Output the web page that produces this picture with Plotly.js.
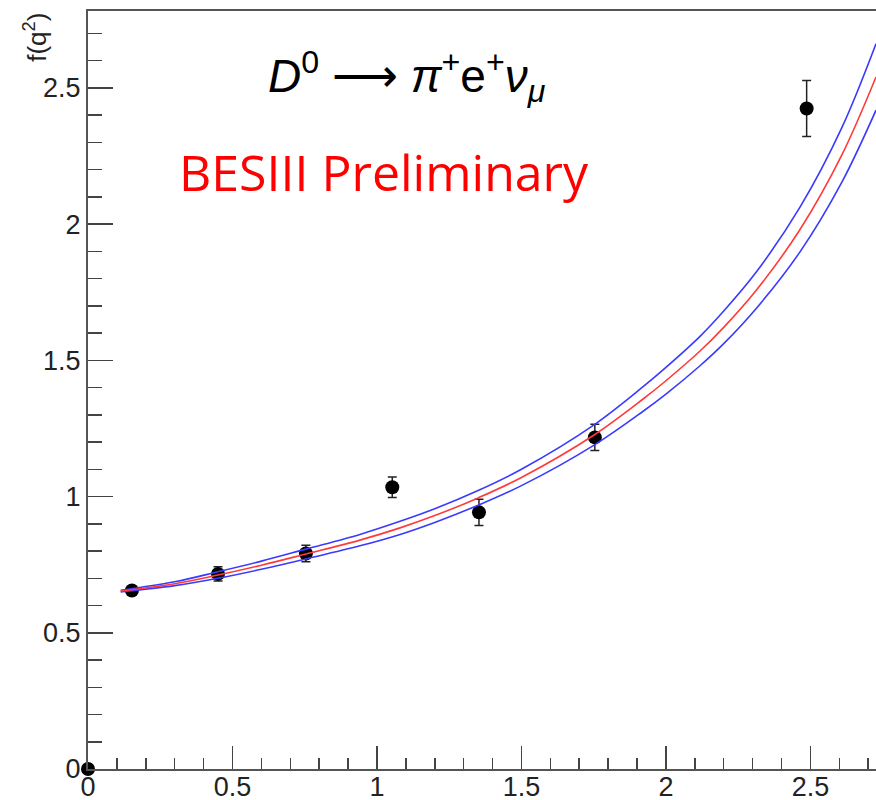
<!DOCTYPE html>
<html>
<head>
<meta charset="utf-8">
<script src="https://cdn.plot.ly/plotly-3.0.1.min.js"></script>
<style>html,body{margin:0;padding:0;background:#fff;}#plot{width:876px;height:800px;}</style>
</head>
<body>
<div id="plot"></div>
<script>
// Measured points f(q^2) with errors
const ptX = [0, 0.152, 0.45, 0.754, 1.053, 1.353, 1.754, 2.487];
const ptY = [0, 0.655, 0.716, 0.791, 1.034, 0.942, 1.217, 2.424];
const ptErr = [0, 0.01, 0.026, 0.03, 0.038, 0.048, 0.048, 0.103];

// Fit curve (red) and its band (blue)
const fitX = [0.113, 0.30, 0.45, 0.60, 0.754, 0.941, 1.08, 1.20, 1.35, 1.50, 1.75, 1.921, 2.0, 2.118, 2.2, 2.314, 2.464, 2.608, 2.727];
const fitY = [0.653, 0.68, 0.712, 0.748, 0.789, 0.84, 0.885, 0.93, 0.995, 1.07, 1.225, 1.358, 1.425, 1.534, 1.621, 1.759, 1.98, 2.252, 2.54];
const upperY = [0.656, 0.687, 0.724, 0.763, 0.807, 0.861, 0.909, 0.955, 1.022, 1.10, 1.262, 1.403, 1.474, 1.588, 1.681, 1.826, 2.062, 2.352, 2.662];
const lowerY = [0.650, 0.673, 0.700, 0.733, 0.771, 0.819, 0.861, 0.905, 0.968, 1.04, 1.188, 1.313, 1.376, 1.480, 1.561, 1.692, 1.898, 2.152, 2.418];

const xTickVals = [0, 0.5, 1, 1.5, 2, 2.5];
const xTickText = ['0', '0.5', '1', '1.5', '2', '2.5'];
const yTickVals = [0, 0.5, 1, 1.5, 2, 2.5];
const yTickText = ['0', '0.5', '1', '1.5', '2', '2.5'];

const titleText = '<i>D</i><sup>0</sup> ⟶ <i>π</i><sup>+</sup>e<sup>+</sup><i>ν</i><sub><i>μ</i></sub>';
const labelText = 'BESIII Preliminary';
const yTitle = 'f(q<sup>2</sup>)';

const traces = [
  {x: ptX, y: ptY, type: 'scatter', mode: 'markers', cliponaxis: false,
   marker: {color: '#000', size: 14},
   error_y: {type: 'data', array: ptErr, visible: true, color: '#222', thickness: 1.5, width: 4.5}},
  {x: fitX, y: upperY, type: 'scatter', mode: 'lines', line: {color: '#3a3aff', width: 1.6, shape: 'spline', smoothing: 1}},
  {x: fitX, y: lowerY, type: 'scatter', mode: 'lines', line: {color: '#3a3aff', width: 1.6, shape: 'spline', smoothing: 1}},
  {x: fitX, y: fitY, type: 'scatter', mode: 'lines', line: {color: '#ff3a3a', width: 1.6, shape: 'spline', smoothing: 1}}
];

const layout = {
  width: 876, height: 800,
  margin: {l: 88, r: 0, t: 11, b: 31},
  paper_bgcolor: '#fff', plot_bgcolor: '#fff',
  showlegend: false,
  font: {family: 'Liberation Sans, Arial, sans-serif', color: '#222'},
  xaxis: {
    range: [0, 2.727], showgrid: false, zeroline: false,
    showline: true, linecolor: '#555', linewidth: 2, mirror: true,
    tickvals: xTickVals, ticktext: xTickText,
    ticks: 'inside', ticklen: 23, tickwidth: 1.5, tickcolor: '#444',
    tickfont: {size: 27, color: '#222'}, ticklabelstandoff: -7,
    minor: {dtick: 0.1, tick0: 0, ticks: 'inside', ticklen: 11, tickwidth: 1.5, tickcolor: '#444'}
  },
  yaxis: {
    range: [0, 2.782], showgrid: false, zeroline: false,
    showline: true, linecolor: '#555', linewidth: 2,
    tickvals: yTickVals, ticktext: yTickText,
    ticks: 'inside', ticklen: 25, tickwidth: 1.5, tickcolor: '#444',
    tickfont: {size: 27, color: '#222'},
    minor: {dtick: 0.1, tick0: 0, ticks: 'inside', ticklen: 14, tickwidth: 1.5, tickcolor: '#444'}
  },
  annotations: [
    {text: titleText, xref: 'x', yref: 'y', x: 1.104, y: 2.54, showarrow: false,
     xanchor: 'center', yanchor: 'middle',
     font: {family: 'Liberation Sans, Arial, sans-serif', size: 46, color: '#000'}},
    {text: labelText, xref: 'x', yref: 'y', x: 1.024, y: 2.19, showarrow: false,
     xanchor: 'center', yanchor: 'middle',
     font: {family: 'Open Sans, sans-serif', size: 50, color: '#ff0000'}},
    {text: yTitle, xref: 'paper', yref: 'paper', x: -0.066, y: 0.966, showarrow: false,
     xanchor: 'center', yanchor: 'middle',
     textangle: -90, font: {family: 'Liberation Sans, Arial, sans-serif', size: 26, color: '#222'}}
  ]
};

Plotly.newPlot('plot', traces, layout, {displayModeBar: false, staticPlot: true});
</script>
</body>
</html>
